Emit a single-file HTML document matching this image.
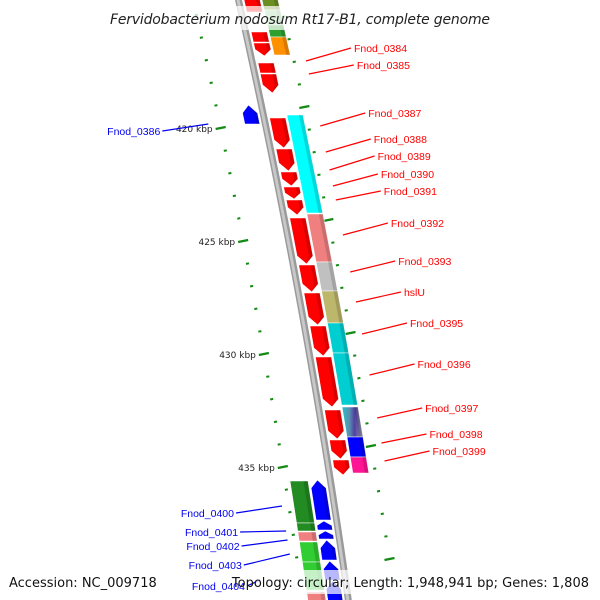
<!DOCTYPE html>
<html><head><meta charset="utf-8">
<style>
html,body{margin:0;padding:0;background:#fff;}
svg{display:block;font-family:"DejaVu Sans","Liberation Sans",sans-serif;}
</style></head>
<body>
<svg id="chart" width="600" height="600" viewBox="0 0 600 600" xmlns="http://www.w3.org/2000/svg">
<defs>
<linearGradient id="stripe" x1="0" x2="1" y1="0" y2="0">
<stop offset="0" stop-color="#20c0c8"/><stop offset="0.35" stop-color="#5a8fb0"/><stop offset="0.6" stop-color="#5040a0"/><stop offset="1" stop-color="#a0a0b0"/>
</linearGradient>
</defs>
<g id="ticks"></g>
<g id="backbone"></g>
<g id="genes"></g>
<g id="labels"></g>
<rect x="104" y="6" width="392" height="24" fill="#fff" opacity="0.72"/>
<text x="300" y="24" text-anchor="middle" font-size="14" font-style="italic" fill="#222" textLength="380">Fervidobacterium nodosum Rt17-B1, complete genome</text>
<rect x="256" y="570" width="344" height="24" fill="#fff" opacity="0.72"/>
<text x="9" y="587" font-size="13" fill="#111">Accession: NC_009718</text>
<text x="589" y="587" text-anchor="end" font-size="13" fill="#111">Topology: circular; Length: 1,948,941 bp; Genes: 1,808</text>
</svg>
<script>
// gene data: start y, end y (map position), lane, color, direction
const geneStarts = [-5,32,43,63,74,118,149,172,187,200,218,265,293,326,357,410,440,460, -5,10,25,37,115,214,262,291,323,353,407,437,457, 105,480,521,531,540,561,581, 481,523,532,542,562,592];
const geneEnds   = [12,42,56,73,93,148,171,186,199,215,264,292,325,356,407,439,459,475, 10,25,37,55,213,262,291,323,353,405,437,457,473, 124,520,530,539,560,580,605, 523,531,541,562,590,605];
const geneLanes  = ['ri','ri','ri','ri','ri','ri','ri','ri','ri','ri','ri','ri','ri','ri','ri','ri','ri','ri', 'ro','ro','ro','ro','ro','ro','ro','ro','ro','ro','ro','ro','ro', 'li','li','li','li','li','li','li', 'lo','lo','lo','lo','lo','lo'];
const geneColors = ['#ff0000','#ff0000','#ff0000','#ff0000','#ff0000','#ff0000','#ff0000','#ff0000','#ff0000','#ff0000','#ff0000','#ff0000','#ff0000','#ff0000','#ff0000','#ff0000','#ff0000','#ff0000',
 '#6b8e23','#90d090','#2ea02e','#ff9000','#00ffff','#f08080','#c0c0c0','#bdb76b','#00ced1','#00ced1','url(#stripe)','#0000ff','#ff1493',
 '#0000ff','#0000ff','#0000ff','#0000ff','#0000ff','#0000ff','#0000ff',
 '#228b22','#228b22','#f08080','#32cd32','#32cd32','#f08080'];
const geneDirs   = [0,0,1,0,1,1,1,1,1,1,1,1,1,1,1,1,1,1, 0,0,0,0,0,0,0,0,0,0,0,0,0, -1,-1,-1,-1,-1,-1,-1, 0,0,0,0,0,0];

// labels
const labelNames = ['Fnod_0384','Fnod_0385','Fnod_0387','Fnod_0388','Fnod_0389','Fnod_0390','Fnod_0391','Fnod_0392','Fnod_0393','hslU','Fnod_0395','Fnod_0396','Fnod_0397','Fnod_0398','Fnod_0399',
 'Fnod_0386','Fnod_0400','Fnod_0401','Fnod_0402','Fnod_0403','Fnod_0404'];
const labelY = [48,65,113,139,156,174,191,223,261,292,323,364,408,434,451, 131,513,532,546,565,586];
const labelAnchorY = [61,74,126,152,170,186,200,235,272,302,334,375,418,443,461, 124,506,531,540,554,580];
const labelSide = ['r','r','r','r','r','r','r','r','r','r','r','r','r','r','r','l','l','l','l','l','l'];

// tick marks
const kbpLabels = ['420 kbp','425 kbp','430 kbp','435 kbp'];
const kbpY = [128,241,354,467];
const pxPerKbp = 22.6;

const NS='http://www.w3.org/2000/svg';
function bx(y){return 238+0.225*y-0.00007*y*y;}
const laneOff={ri:[6,22],ro:[24,40],li:[-20,-5],lo:[-40,-22]};
function mk(tag,attrs,parent){const e=document.createElementNS(NS,tag);for(const k in attrs)e.setAttribute(k,attrs[k]);parent.appendChild(e);return e;}
const gT=document.getElementById('ticks'),gB=document.getElementById('backbone'),gG=document.getElementById('genes'),gL=document.getElementById('labels');

// backbone
let d1='',d2='';
for(let y=-5;y<=605;y+=5){d1+=(y===-5?'M':'L')+(bx(y)-3)+','+y+' ';}
for(let y=605;y>=-5;y-=5){d1+='L'+(bx(y)+4)+','+y+' ';}
const bb=mk('path',{d:d1+'Z',fill:'#9a9a9a'},gB);


for(let y=-5;y<=605;y+=5){d2+=(y===-5?'M':'L')+(bx(y)-1.5)+','+y+' ';}
for(let y=605;y>=-5;y-=5){d2+='L'+(bx(y)+1.5)+','+y+' ';}
mk('path',{d:d2+'Z',fill:'#c8c8c8'},gB);

// ticks
for(let k=-6;k<=30;k++){
  const yl=kbpY[0]+k*pxPerKbp;
  if(yl>-5&&yl<605){
    const major=kbpY.some(v=>Math.abs(v-yl)<1);
    const x=bx(yl)-45;
    const t=mk('line',{x1:x-(major?5:1.5),y1:yl+(major?1:0.3),x2:x+(major?5:1.5),y2:yl-(major?1:0.3),stroke:'#138a13','stroke-width':major?2.2:2},gT);
    
    
  }
  const yr=kbpY[0]-21+k*pxPerKbp;
  if(yr>-5&&yr<605){
    const major=((k%5)+5)%5===0;
    const x=bx(yr)+42+0.01*yr;
    const t=mk('line',{x1:x-(major?5:1.5),y1:yr+(major?1:0.3),x2:x+(major?5:1.5),y2:yr-(major?1:0.3),stroke:'#138a13','stroke-width':major?2.2:2},gT);
    
    
  }
}
kbpLabels.forEach((s,i)=>{
  const t=mk('text',{x:bx(kbpY[i])-53,y:kbpY[i]+4,'text-anchor':'end','font-size':9,fill:'#222'},gT);
  t.textContent=s;
  
  
});

// genes
for(let i=0;i<geneStarts.length;i++){
  const y1=geneStarts[i],y2=geneEnds[i],[o1,o2]=laneOff[geneLanes[i]],dir=geneDirs[i];
  const om=(o1+o2)/2,h=Math.min(8,(y2-y1)*0.5);
  let pts;
  if(dir===1){pts=[[o1,y1],[o2,y1],[o2,y2-h],[om,y2],[o1,y2-h]];}
  else if(dir===-1){pts=[[om,y1],[o2,y1+h],[o2,y2],[o1,y2],[o1,y1+h]];}
  else{pts=[[o1,y1],[o2,y1],[o2,y2],[o1,y2]];}
  const p=mk('polygon',{points:pts.map(q=>(bx(q[1])+q[0]).toFixed(1)+','+q[1]).join(' '),fill:geneColors[i],stroke:'#fff','stroke-width':0.6},gG);
  
  
  mk('polygon',{points:pts.filter(q=>q[0]>=om).concat([[om+(o2-o1)*0.25,y2-(dir===1?h:0)],[om+(o2-o1)*0.25,y1+(dir===-1?h:0)]]).map(q=>(bx(q[1])+q[0]).toFixed(1)+','+q[1]).join(' '),fill:'#000',opacity:0.15},gG);
}

// labels
labelNames.forEach((n,i)=>{
  const y=labelAnchorY[i];
  const col=labelSide[i]==='r'?'#ff0000':'#0000ee';
  let x1,x2,tx,anchor;
  if(labelSide[i]==='r'){x1=bx(y)+54+0.008*y;x2=x1+45;tx=x2+3;anchor='start';}
  else{x1=bx(y)-58+0.012*y;x2=x1-46;tx=x2-2;anchor='end';}
  if(n==='Fnod_0404'){x1=260;x2=247;tx=x2-2;}
  const ly=labelY[i];
  const l=mk('line',{x1:x1,y1:y,x2:x2,y2:ly,stroke:col,'stroke-width':1.2},gL);
  
  
  const t=mk('text',{x:tx,y:ly+4,'text-anchor':anchor,'font-size':10.5,fill:col,'font-family':'"Liberation Sans",sans-serif'},gL);
  t.textContent=n;
  
  
});
</script>
</body></html>
